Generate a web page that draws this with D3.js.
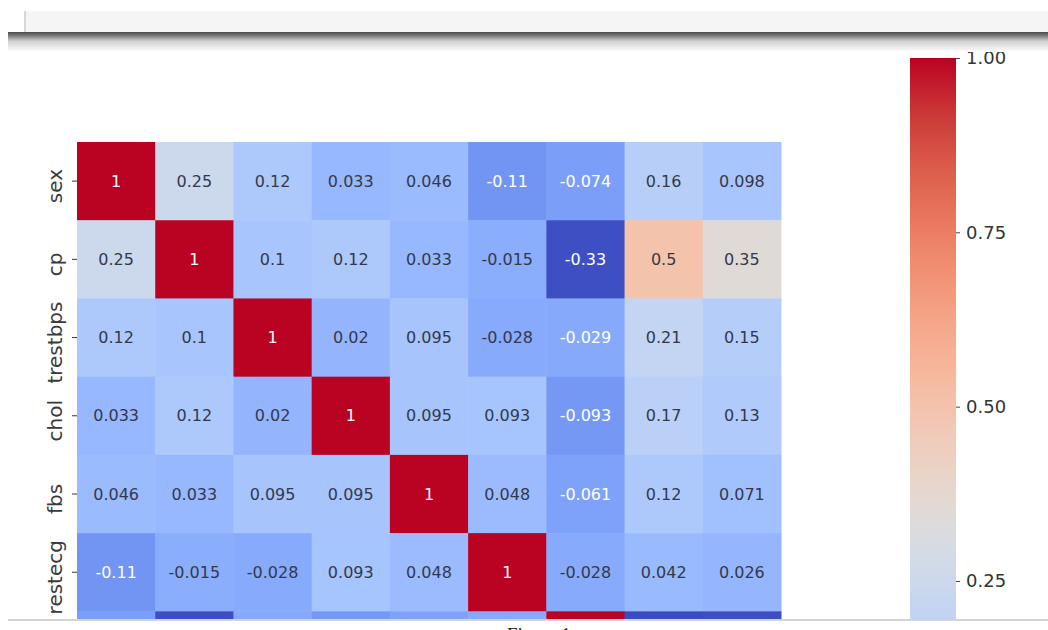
<!DOCTYPE html>
<html>
<head>
<meta charset="utf-8">
<script src="https://cdn.jsdelivr.net/npm/d3@7"></script>
<style>
  html, body { margin: 0; padding: 0; background: #ffffff; }
  svg { display: block; font-family: "DejaVu Sans", sans-serif; }
</style>
</head>
<body>
<svg id="chart" width="1048" height="630"></svg>
<script>
// ---- data ----
const rowLabels = ["sex", "cp", "trestbps", "chol", "fbs", "restecg", "thalach"];
const colLabels = ["sex", "cp", "trestbps", "chol", "fbs", "restecg", "thalach", "exang", "oldpeak"];
const rowSex      = [1, 0.25, 0.12, 0.033, 0.046, -0.11, -0.074, 0.16, 0.098];
const rowCp       = [0.25, 1, 0.1, 0.12, 0.033, -0.015, -0.33, 0.5, 0.35];
const rowTrestbps = [0.12, 0.1, 1, 0.02, 0.095, -0.028, -0.029, 0.21, 0.15];
const rowChol     = [0.033, 0.12, 0.02, 1, 0.095, 0.093, -0.093, 0.17, 0.13];
const rowFbs      = [0.046, 0.033, 0.095, 0.095, 1, 0.048, -0.061, 0.12, 0.071];
const rowRestecg  = [-0.11, -0.015, -0.028, 0.093, 0.048, 1, -0.028, 0.042, 0.026];
const rowThalach  = [-0.074, -0.33, -0.029, -0.093, -0.061, -0.028, 1, -0.34, -0.33];
const corrRows = [rowSex, rowCp, rowTrestbps, rowChol, rowFbs, rowRestecg, rowThalach];
const cbarTicks = [-0.25, 0, 0.25, 0.5, 0.75, 1.0];

// coolwarm control colours
const coolwarm = ["#3b4cc0","#4d68d7","#6282ea","#779af7","#8db0fe","#a3c2ff","#b8d0f9","#ccd9ee",
                  "#dddddd","#ecd3c5","#f5c4ad","#f7b194","#f49a7b","#ec7f63","#de604d","#cb3e38","#ba0222"];

const cells = [];
corrRows.forEach((r, i) => r.forEach((v, j) => cells.push({ row: rowLabels[i], col: colLabels[j], v })));
const vmin = d3.min(cells, d => d.v), vmax = d3.max(cells, d => d.v);

const svg = d3.select("#chart");
const defs = svg.append("defs");
const cutY = 620; // bottom edge of the cropped screenshot

// ---- notebook chrome ----
svg.append("rect").attr("x", 25).attr("y", 11).attr("width", 1023).attr("height", 21).attr("fill", "#f5f5f5");
svg.append("rect").attr("x", 24).attr("y", 11).attr("width", 2).attr("height", 21).attr("fill", "#d6d6d6");
const sh = defs.append("linearGradient").attr("id", "shadow").attr("x1", 0).attr("x2", 0).attr("y1", 0).attr("y2", 1);
[[0, "#4a4a4a"], [0.15, "#707070"], [0.45, "#cfcfcf"], [1, "#ffffff"]].forEach(s =>
  sh.append("stop").attr("offset", s[0]).attr("stop-color", s[1]));
svg.append("rect").attr("x", 8).attr("y", 32).attr("width", 1040).attr("height", 20).attr("fill", "url(#shadow)");

defs.append("clipPath").attr("id", "clip").append("rect")
  .attr("x", 0).attr("y", 52).attr("width", 1048).attr("height", cutY - 52);

const g = svg.append("g").attr("clip-path", "url(#clip)");

// ---- scales ----
const cellSize = (781 - 77) / colLabels.length;
const x = d3.scaleBand().domain(colLabels).range([77, 781]);
const y = d3.scaleBand().domain(rowLabels).range([142, 142 + cellSize * rowLabels.length]);
const colorInterp = d3.interpolateRgbBasis(coolwarm);
const color = d3.scaleSequential(colorInterp).domain([vmin, vmax]);

function lum(c) {
  const rgb = d3.rgb(c);
  const f = u => { u /= 255; return u <= 0.03928 ? u / 12.92 : Math.pow((u + 0.055) / 1.055, 2.4); };
  return 0.2126 * f(rgb.r) + 0.7152 * f(rgb.g) + 0.0722 * f(rgb.b);
}
const fmt = v => d3.format(".2~g")(v).replace("\u2212", "-");
const visibleRow = r => y(r) + y.bandwidth() / 2 < cutY;

// ---- heatmap ----
g.selectAll("rect.cell").data(cells).enter().append("rect")
  .attr("class", "cell")
  .attr("x", d => x(d.col)).attr("y", d => y(d.row))
  .attr("width", x.bandwidth() + 0.5).attr("height", y.bandwidth() + 0.5)
  .attr("fill", d => color(d.v));

g.selectAll("text.annot").data(cells.filter(d => visibleRow(d.row))).enter().append("text")
  .attr("class", "annot")
  .attr("x", d => x(d.col) + x.bandwidth() / 2)
  .attr("y", d => y(d.row) + y.bandwidth() / 2)
  .attr("text-anchor", "middle").attr("dominant-baseline", "central")
  .attr("font-size", 16)
  .attr("fill", d => lum(color(d.v)) > 0.408 ? "#33394a" : "#ffffff")
  .text(d => fmt(d.v));

// row axis
const yAxis = d3.axisLeft(y).tickSize(5).tickPadding(8).tickValues(rowLabels.filter(visibleRow));
const ya = g.append("g").attr("transform", "translate(77,0)").call(yAxis);
ya.select(".domain").remove();
ya.selectAll(".tick line").attr("stroke", "#333").attr("stroke-width", 1);
ya.selectAll(".tick text")
  .attr("font-size", 20).attr("fill", "#3a3a3a")
  .attr("font-family", "DejaVu Sans, sans-serif")
  .attr("text-anchor", "middle")
  .attr("dy", 0)
  .attr("x", 0).attr("y", 0)
  .attr("transform", "translate(-15,5) rotate(-90)");

// ---- colorbar ----
const cbX = 910, cbW = 46;
const cb = d3.scaleLinear().domain([vmin, vmax]).range([58 + (vmax - vmin) * 697.3, 58]);
const cg = defs.append("linearGradient").attr("id", "cbar").attr("x1", 0).attr("x2", 0).attr("y1", 1).attr("y2", 0);
d3.range(0, 1.0001, 1 / 32).forEach(t => cg.append("stop").attr("offset", t).attr("stop-color", colorInterp(t)));
g.append("rect").attr("x", cbX).attr("y", cb(vmax)).attr("width", cbW).attr("height", cb(vmin) - cb(vmax))
  .attr("fill", "url(#cbar)");
const cAxis = d3.axisRight(cb).tickValues(cbarTicks.filter(t => cb(t) < cutY))
  .tickFormat(d3.format(".2f")).tickSize(4).tickPadding(6);
const ca = g.append("g").attr("transform", `translate(${cbX + cbW},0)`).call(cAxis);
ca.select(".domain").remove();
ca.selectAll(".tick line").attr("stroke", "#444");
ca.selectAll(".tick text").attr("font-size", 18).attr("fill", "#333").attr("font-family", "DejaVu Sans, sans-serif");

// ---- bottom crop edge and caption ----
svg.append("rect").attr("x", 8).attr("y", cutY - 1).attr("width", 1040).attr("height", 2).attr("fill", "#d4d4d4");
svg.append("text").attr("x", 507).attr("y", 641).attr("font-family", "Liberation Serif, serif")
  .attr("font-size", 19).attr("fill", "#222").text("Figure 1");
</script>
</body>
</html>
